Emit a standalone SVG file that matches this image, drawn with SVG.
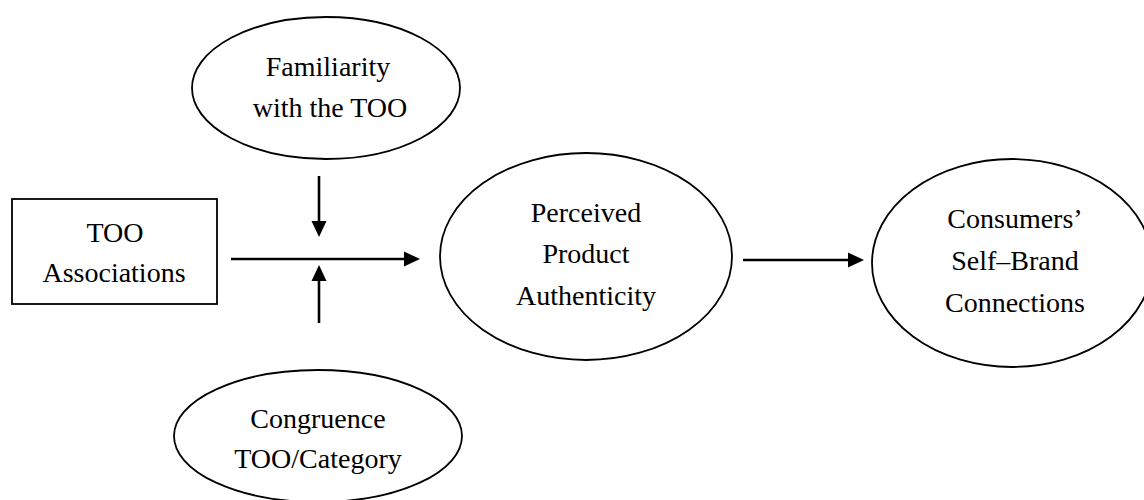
<svg xmlns="http://www.w3.org/2000/svg" width="1144" height="500" viewBox="0 0 1144 500">
<style>
.node{fill:#fff;stroke:#000;stroke-width:1.8}
.lbl{font-family:"Liberation Serif","Times New Roman",serif;font-size:28px;fill:#000;text-anchor:middle}
.arr{stroke:#000;stroke-width:2.6;fill:none;marker-end:url(#ah)}
</style>
<defs>
<marker id="ah" markerUnits="userSpaceOnUse" markerWidth="17" markerHeight="16" refX="8" refY="8" orient="auto">
<path d="M0,0.5 L16,8 L0,15.5 z" fill="#000"/>
</marker>
</defs>
<rect width="1144" height="500" fill="#fff"/>
<g id="familiarity">
<ellipse class="node" cx="326" cy="88" rx="134" ry="71"/>
<text class="lbl" x="328" y="76">Familiarity</text>
<text class="lbl" x="330" y="117">with the TOO</text>
</g>
<g id="too-associations">
<rect class="node" x="12" y="199" width="205" height="105" stroke-width="1.6"/>
<text class="lbl" x="115" y="242">TOO</text>
<text class="lbl" x="114" y="282">Associations</text>
</g>
<g id="perceived">
<ellipse class="node" cx="586" cy="256.5" rx="146" ry="103.5"/>
<text class="lbl" x="586" y="222">Perceived</text>
<text class="lbl" x="586" y="263">Product</text>
<text class="lbl" x="586" y="305">Authenticity</text>
</g>
<g id="consumers">
<ellipse class="node" cx="1012" cy="263" rx="140" ry="104"/>
<text class="lbl" x="1015" y="228">Consumers’</text>
<text class="lbl" x="1015" y="270">Self–Brand</text>
<text class="lbl" x="1015" y="312">Connections</text>
</g>
<g id="congruence">
<ellipse class="node" cx="318" cy="436" rx="144" ry="66"/>
<text class="lbl" x="318" y="428">Congruence</text>
<text class="lbl" x="318" y="468">TOO/Category</text>
</g>
<g id="connectors">
<line class="arr" x1="231" y1="259" x2="412" y2="259"/>
<line class="arr" x1="319" y1="176" x2="319" y2="229"/>
<line class="arr" x1="319" y1="323" x2="319" y2="273"/>
<line class="arr" x1="743" y1="260" x2="856" y2="260"/>
</g>
</svg>
